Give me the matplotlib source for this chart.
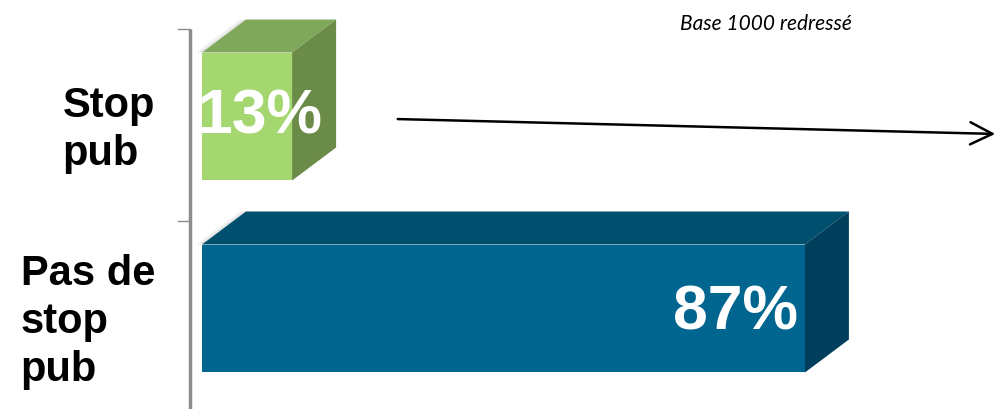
import matplotlib.pyplot as plt
from matplotlib.patches import Polygon

# data
categories = ["Stop\npub", "Pas de\nstop\npub"]
values = [13, 87]
value_labels = ["13%", "87%"]
front_colors = ["#a5d770", "#00668f"]
top_colors = ["#80a85a", "#004f6e"]
side_colors = ["#6a8c48", "#003f5c"]
note = "Base 1000 redressé"

W, H = 999, 410
fig = plt.figure(figsize=(W / 100, H / 100), dpi=100)
ax = fig.add_axes([0, 0, 1, 1])

# pixel mapping: 0% at x=202 px, ~6.93 px per %; categories 192 px apart
px_per_pct = 6.93
x0_px = 202
ax.set_xlim(-x0_px / px_per_pct, (W - x0_px) / px_per_pct)
y_c0 = 117.5
px_per_cat = 192
ax.set_ylim((H - y_c0) / px_per_cat, -y_c0 / px_per_cat)
ax.axis("off")

bar_h = 128 / px_per_cat
dx = 44 / px_per_pct
dy = 33 / px_per_cat

for i, v in enumerate(values):
    top = i - bar_h / 2
    bot = i + bar_h / 2
    # soft shadow along the top-left edge
    for k, a in enumerate([0.05, 0.08, 0.12]):
        off = (3 - k) * 0.35
        ax.add_patch(Polygon([(0 - off, top), (dx - off, top - dy), (dx, top - dy), (0, top)],
                             closed=True, facecolor="#888888", edgecolor="none", alpha=a, zorder=1))
    ax.barh(i, v, height=bar_h, color=front_colors[i], edgecolor="none", zorder=3)
    ax.add_patch(Polygon([(0, top), (dx, top - dy), (v + dx, top - dy), (v, top)],
                         closed=True, facecolor=top_colors[i], edgecolor="none", zorder=3))
    ax.add_patch(Polygon([(v, top), (v + dx, top - dy), (v + dx, bot - dy), (v, bot)],
                         closed=True, facecolor=side_colors[i], edgecolor="none", zorder=3))

# value labels
ax.text(values[0] / 2 + 1.8, 0, value_labels[0], color="white", fontsize=45, fontweight="bold",
        family="Liberation Sans", ha="center", va="center", zorder=5)
ax.text(values[1] - 1.0, 1.02, value_labels[1], color="white", fontsize=45, fontweight="bold",
        family="Liberation Sans", ha="right", va="center", zorder=5)

# category labels
for i, lab in enumerate(categories):
    ax.text(-6.8, i + 0.065, lab, fontsize=30, fontweight="bold", family="Liberation Sans",
            ha="right", va="center", multialignment="left", linespacing=1.25)

# axis line and ticks
ax_x = (190 - x0_px) / px_per_pct
tick_len = 12 / px_per_pct
y_top = (30 - y_c0) / px_per_cat
ax.plot([ax_x, ax_x], [y_top, (H - y_c0) / px_per_cat], color="#8c8c8c", lw=2.5, zorder=2,
        solid_capstyle="butt")
for ty in [y_top, y_top + 1]:
    ax.plot([ax_x - tick_len, ax_x], [ty, ty], color="#8c8c8c", lw=1, zorder=2)

# trend arrow
ax.annotate("", xy=((998 - x0_px) / px_per_pct, (135 - y_c0) / px_per_cat),
            xytext=((395 - x0_px) / px_per_pct, (120 - y_c0) / px_per_cat),
            arrowprops=dict(arrowstyle="->", color="black", lw=1.8, mutation_scale=40))

ax.text((680 - x0_px) / px_per_pct, (24 - y_c0) / px_per_cat, note, fontsize=15, style="italic",
        family="Lato", ha="left", va="center")

fig.savefig("out.png", dpi=100)
